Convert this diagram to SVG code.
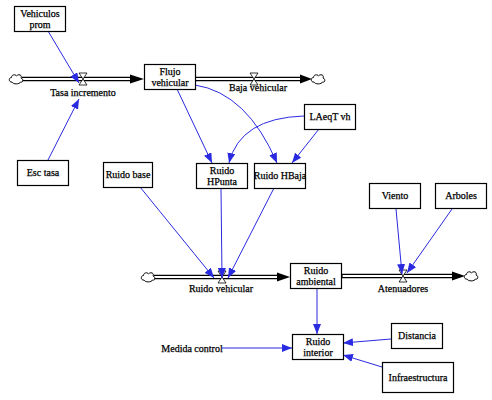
<svg xmlns="http://www.w3.org/2000/svg" width="492" height="400" viewBox="0 0 492 400">
<style>
  .box { fill: #fff; stroke: #000; stroke-width: 1.2; }
  text { font-family: "Liberation Serif", "Times New Roman", serif; font-size: 10px; fill: #000; stroke: #000; stroke-width: 0.25; text-anchor: middle; }
  .pipeo { fill: none; stroke: #000; stroke-width: 4.6; }
  .pipei { fill: none; stroke: #fff; stroke-width: 2.2; }
  .head { fill: #000; }
  .conn { fill: none; stroke: #2a2ae0; stroke-width: 1; marker-end: url(#arr); }
  .cloud { fill: #fff; stroke: #000; stroke-width: 1; }
  .valve { fill: #fff; stroke: #000; stroke-width: 0.8; }
</style>
<defs>
  <marker id="arr" markerUnits="userSpaceOnUse" markerWidth="10" markerHeight="8" refX="10" refY="4" orient="auto">
    <path d="M0,0 L10,4 L0,8 Z" fill="#2a2ae0"/>
  </marker>
  <path id="cloudshape" class="cloud" d="M-4,3 C-7.5,3.5 -7.5,-1.5 -4.5,-1.5 C-4.5,-4.5 -0.5,-5 0.5,-3 C2.5,-5.5 6.5,-4 5,-1 C7.5,-0.5 7.5,4 4.5,3 C3.5,5.5 -3,5.5 -4,3 Z"/>
  <path id="valveshape" class="valve" d="M-4,-6 H4 L-4,6 H4 Z"/>
</defs>
<rect width="492" height="400" fill="#fff"/>

<g id="flows">
  <path class="pipeo" d="M22,79 H131"/>
  <path class="pipei" d="M21,79 H131"/>
  <polygon class="head" points="130,74.5 144,79 130,83.5"/>
  <use href="#cloudshape" x="16" y="79"/>
  <path class="pipeo" d="M195,79 H301"/>
  <path class="pipei" d="M195.6,79 H301"/>
  <polygon class="head" points="300,74.5 312,79 300,83.5"/>
  <use href="#cloudshape" x="318" y="79"/>
  <path class="pipeo" d="M154,277 H278"/>
  <path class="pipei" d="M153,277 H278"/>
  <polygon class="head" points="277,272.5 290,277 277,281.5"/>
  <use href="#cloudshape" x="148" y="277"/>
  <path class="pipeo" d="M342,276 H453"/>
  <path class="pipei" d="M342.6,276 H453"/>
  <polygon class="head" points="452,271.5 465,276 452,280.5"/>
  <use href="#cloudshape" x="471" y="276"/>
</g>

<g id="valve-tasa-incremento">
  <use href="#valveshape" x="83" y="79"/>
  <text x="83" y="95.5">Tasa incremento</text>
</g>
<g id="valve-baja-vehicular">
  <use href="#valveshape" x="254" y="79"/>
  <text x="258" y="90.5">Baja vehicular</text>
</g>
<g id="valve-ruido-vehicular">
  <use href="#valveshape" x="222" y="277"/>
  <text x="221" y="291.5">Ruido vehicular</text>
</g>
<g id="valve-atenuadores">
  <use href="#valveshape" x="403" y="276"/>
  <text x="403" y="291.5">Atenuadores</text>
</g>

<g id="connectors">
  <path class="conn" d="M48,31 L79,83"/>
  <path class="conn" d="M48,160 L79,99"/>
  <path class="conn" d="M177,89 L212,163"/>
  <path class="conn" d="M195,85 Q247,93 277,163"/>
  <path class="conn" d="M304,116 Q240,118 229,163"/>
  <path class="conn" d="M319,129 L292,163"/>
  <path class="conn" d="M140,187 L214,278"/>
  <path class="conn" d="M221,188 L222,278"/>
  <path class="conn" d="M274,188 L228,278"/>
  <path class="conn" d="M396,209 L402,274"/>
  <path class="conn" d="M452,209 L407,273"/>
  <path class="conn" d="M317,288 L317,334"/>
  <path class="conn" d="M222,348 L292,348"/>
  <path class="conn" d="M391,339 L343,343"/>
  <path class="conn" d="M382,367 L343,355"/>
</g>

<g id="vehiculos-prom">
  <rect class="box" x="14.5" y="6.5" width="51" height="25"/>
  <text x="40" y="16.5">Vehiculos</text>
  <text x="40" y="28">prom</text>
</g>
<g id="flujo-vehicular">
  <rect class="box" x="144.5" y="64.5" width="51" height="25"/>
  <text x="170" y="74.5">Flujo</text>
  <text x="170" y="86">vehicular</text>
</g>
<g id="esc-tasa">
  <rect class="box" x="17.5" y="160.5" width="51" height="25"/>
  <text x="43" y="176">Esc tasa</text>
</g>
<g id="ruido-base">
  <rect class="box" x="103.5" y="162.5" width="49" height="25"/>
  <text x="128" y="178">Ruido base</text>
</g>
<g id="ruido-hpunta">
  <rect class="box" x="196.5" y="163.5" width="51" height="25"/>
  <text x="222" y="173.5">Ruido</text>
  <text x="222" y="185">HPunta</text>
</g>
<g id="ruido-hbaja">
  <rect class="box" x="254.5" y="163.5" width="51" height="25"/>
  <text x="280" y="179">Ruido HBaja</text>
</g>
<g id="laeqt-vh">
  <rect class="box" x="304.5" y="104.5" width="51" height="25"/>
  <text x="330" y="120">LAeqT vh</text>
</g>
<g id="viento">
  <rect class="box" x="369.5" y="183.5" width="51" height="25"/>
  <text x="395" y="199">Viento</text>
</g>
<g id="arboles">
  <rect class="box" x="435.5" y="183.5" width="51" height="25"/>
  <text x="461" y="199">Arboles</text>
</g>
<g id="ruido-ambiental">
  <rect class="box" x="290.5" y="263.5" width="51" height="25"/>
  <text x="316" y="273.5">Ruido</text>
  <text x="316" y="285">ambiental</text>
</g>
<g id="ruido-interior">
  <rect class="box" x="292.5" y="334.5" width="51" height="25"/>
  <text x="318" y="344.5">Ruido</text>
  <text x="318" y="356">interior</text>
</g>
<g id="distancia">
  <rect class="box" x="391.5" y="323.5" width="51" height="25"/>
  <text x="417" y="339">Distancia</text>
</g>
<g id="infraestructura">
  <rect class="box" x="382.5" y="362.5" width="71" height="30"/>
  <text x="418" y="380.5">Infraestructura</text>
</g>
<g id="medida-control">
  <text x="192" y="351.5">Medida control</text>
</g>
</svg>
